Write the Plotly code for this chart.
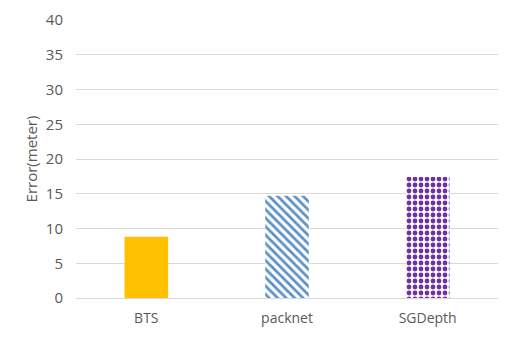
import plotly.graph_objects as go

categories = ["BTS", "packnet", "SGDepth"]
values = [8.8, 14.7, 17.4]
y_ticks = [0, 5, 10, 15, 20, 25, 30, 35, 40]
colors = ["#ffc000", "#5b8fc7", "#7030a0"]
shapes = ["", "\\", "."]

fig = go.Figure()
for cat, val, col, shp in zip(categories, values, colors, shapes):
    if shp == "\\":
        marker = dict(
            color="#ffffff", line=dict(width=0),
            pattern=dict(shape=shp, fgcolor=col, bgcolor="#ffffff",
                         size=6, solidity=0.45, fillmode="replace"),
        )
    elif shp:
        marker = dict(
            color="#ffffff", line=dict(width=0),
            pattern=dict(shape=shp, fgcolor=col, bgcolor="#ffffff",
                         size=6, solidity=0.5, fillmode="replace"),
        )
    else:
        marker = dict(color=col, line=dict(width=0))
    fig.add_trace(go.Bar(x=[cat], y=[val], marker=marker, width=0.31))

fig.update_layout(
    width=498, height=338,
    margin=dict(l=68, r=8, t=12, b=48, autoexpand=False),
    barmode="overlay",
    paper_bgcolor="white", plot_bgcolor="white",
    font=dict(family="Open Sans", size=15, color="#595959"),
    showlegend=False,
    yaxis=dict(
        range=[0, 40], tickvals=y_ticks, showgrid=True, gridcolor="#d9d9d9",
        gridwidth=1, zeroline=True, zerolinecolor="#d9d9d9", zerolinewidth=1,
        title=dict(text="Error(meter)", standoff=4, font=dict(size=15)),
        ticks="", ticklen=0, tickfont=dict(size=15), ticklabelstandoff=12,
        automargin=False,
    ),
    xaxis=dict(showline=False, ticks="", tickfont=dict(size=14),
               ticklabelstandoff=10, automargin=False),
)

fig.write_html("out.html")
